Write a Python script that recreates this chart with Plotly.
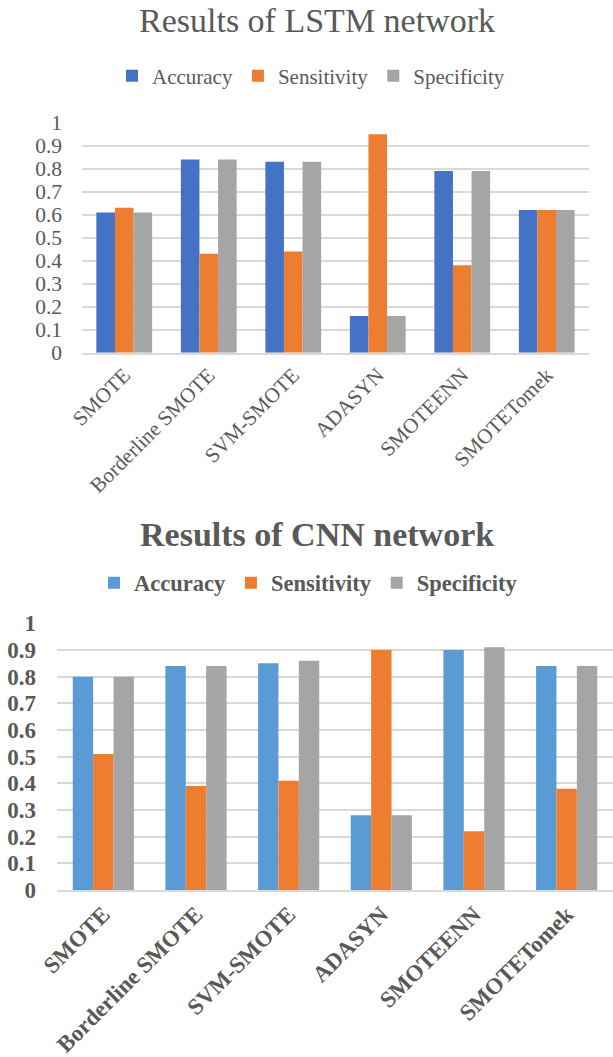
import plotly.graph_objects as go

METHODS = ["SMOTE", "Borderline SMOTE", "SVM-SMOTE", "ADASYN", "SMOTEENN", "SMOTETomek"]
METRICS = ["Accuracy", "Sensitivity", "Specificity"]

LSTM_ACCURACY = [0.61, 0.84, 0.83, 0.16, 0.79, 0.62]
LSTM_SENSITIVITY = [0.63, 0.43, 0.44, 0.95, 0.38, 0.62]
LSTM_SPECIFICITY = [0.61, 0.84, 0.83, 0.16, 0.79, 0.62]

CNN_ACCURACY = [0.80, 0.84, 0.85, 0.28, 0.90, 0.84]
CNN_SENSITIVITY = [0.51, 0.39, 0.41, 0.90, 0.22, 0.38]
CNN_SPECIFICITY = [0.80, 0.84, 0.86, 0.28, 0.91, 0.84]

Y_TICKS = [0, 0.1, 0.2, 0.3, 0.4, 0.5, 0.6, 0.7, 0.8, 0.9, 1]
Y_TICK_TEXT = ["0", "0.1", "0.2", "0.3", "0.4", "0.5", "0.6", "0.7", "0.8", "0.9", "1"]

LSTM_COLORS = ["#4472C4", "#ED7D31", "#A5A5A5"]
CNN_COLORS = ["#5B9BD5", "#ED7D31", "#A5A5A5"]
TEXT = "#595959"
GRID = "#D9D9D9"
SERIF = "Liberation Serif"

W, H = 613, 1057
BAR_W = 0.22


def px_x(x):
    return x / W


def px_y(y):
    return 1 - y / H


fig = go.Figure()

for i, (name, vals) in enumerate(zip(METRICS, [LSTM_ACCURACY, LSTM_SENSITIVITY, LSTM_SPECIFICITY])):
    fig.add_trace(go.Bar(
        x=METHODS, y=vals, name=name, marker_color=LSTM_COLORS[i],
        width=BAR_W, offset=(i - 1.5) * BAR_W,
        xaxis="x", yaxis="y", legend="legend", marker_line_width=0,
    ))

for i, (name, vals) in enumerate(zip(METRICS, [CNN_ACCURACY, CNN_SENSITIVITY, CNN_SPECIFICITY])):
    fig.add_trace(go.Bar(
        x=METHODS, y=vals, name=name, marker_color=CNN_COLORS[i],
        width=BAR_W, offset=(i - 1.5) * BAR_W,
        xaxis="x2", yaxis="y2", legend="legend2", marker_line_width=0,
    ))

regular = dict(family=SERIF, color=TEXT)
bold = dict(family=SERIF, color=TEXT, weight="bold")

fig.update_layout(
    width=W, height=H,
    margin=dict(l=0, r=0, t=0, b=0),
    paper_bgcolor="white", plot_bgcolor="white",
    barmode="overlay",
    font=regular,
    xaxis=dict(domain=[px_x(82), px_x(589)], anchor="y", tickangle=-45, automargin=False,
               tickfont=dict(size=21, **regular),
               showgrid=False, showline=True, linecolor=GRID, linewidth=1.5, ticks=""),
    yaxis=dict(domain=[px_y(352.7), px_y(122.7)], anchor="x", range=[0, 1.0], automargin=False,
               tickvals=Y_TICKS, ticktext=Y_TICK_TEXT,
               tickfont=dict(size=21.5, **regular),
               showgrid=True, gridcolor=GRID, gridwidth=1.5,
               zeroline=False, ticklabelstandoff=19),
    # faint stray tick marks far left of the top chart's value axis
    yaxis3=dict(overlaying="y", anchor="free", position=px_x(14), side="left",
                range=[0, 1.0], tickvals=Y_TICKS, ticks="outside", ticklen=3,
                tickcolor="#BFBFBF", tickwidth=1, showticklabels=False,
                showgrid=False, showline=False, zeroline=False, automargin=False),
    xaxis2=dict(domain=[px_x(57), 1.0], anchor="y2", tickangle=-45, automargin=False,
                tickfont=dict(size=23, **bold),
                showgrid=False, showline=True, linecolor=GRID, linewidth=1.5, ticks=""),
    yaxis2=dict(domain=[px_y(890), px_y(623.3)], anchor="x2", range=[0, 1.0], automargin=False,
                tickvals=Y_TICKS, ticktext=Y_TICK_TEXT,
                tickfont=dict(size=23, **bold),
                showgrid=True, gridcolor=GRID, gridwidth=1.5,
                zeroline=False, ticklabelstandoff=20),
    legend=dict(orientation="h", x=px_x(112), y=px_y(76), xanchor="left", yanchor="middle",
                font=dict(size=21, **regular),
                traceorder="normal", bgcolor="rgba(0,0,0,0)"),
    legend2=dict(orientation="h", x=px_x(94), y=px_y(583), xanchor="left", yanchor="middle",
                 font=dict(size=22.5, **bold),
                 traceorder="normal", bgcolor="rgba(0,0,0,0)"),
    annotations=[
        dict(text="Results of LSTM network", x=px_x(317), y=px_y(21), xref="paper", yref="paper",
             showarrow=False, xanchor="center", yanchor="middle",
             font=dict(size=34, **regular)),
        dict(text="Results of CNN network", x=px_x(317), y=px_y(534), xref="paper", yref="paper",
             showarrow=False, xanchor="center", yanchor="middle",
             font=dict(size=34, **bold)),
    ],
)

# the page body has a default 8px margin; drop it so the figure sits at the top-left corner
fig.write_html("out.html", config={"displayModeBar": False},
               post_script="document.body.style.margin = '0';")
